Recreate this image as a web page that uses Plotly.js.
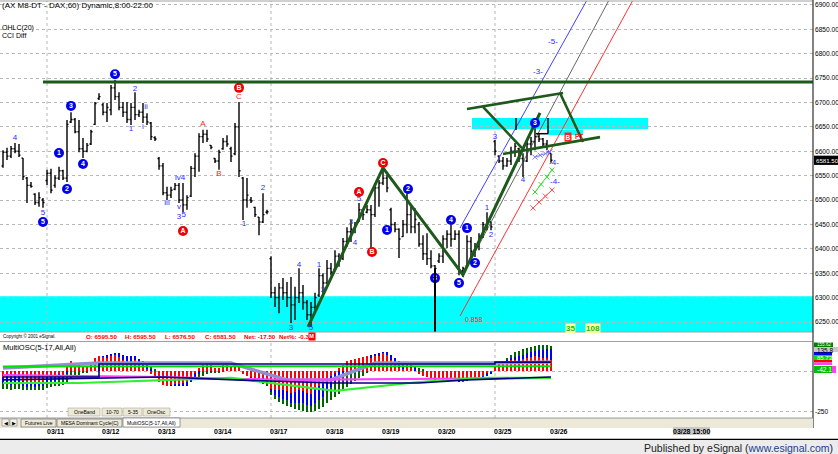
<!DOCTYPE html>
<html><head><meta charset="utf-8">
<script src="https://cdn.plot.ly/plotly-3.0.1.min.js"></script>
<style>html,body{margin:0;padding:0;background:#fff;overflow:hidden}#chart{width:838px;height:454px;}</style>
</head><body><div id="chart"></div>
<script>
// ---------- DATA (hourly DAX bars, 8:00-22:00) ----------
const openP  = [6570,6598,6590,6605,6600,6586,6545,6530,6512,6495,6500,6540,6555,6530,6545,6560,6545,6660,6665,6640,6605,6600,6615,6655,6708,6695,6680,6685,6730,6712,6690,6680,6665,6690,6675,6680,6670,6658,6628,6585,6570,6515,6510,6522,6530,6500,6490,6508,6565,6590,6630,6635,6612,6585,6580,6605,6620,6605,6595,6650,6545,6500,6500,6485,6465,6455,6475,6380,6310,6300,6320,6310,6300,6285,6300,6310,6290,6265,6280,6305,6345,6330,6360,6358,6385,6380,6415,6435,6440,6455,6480,6475,6480,6470,6525,6535,6545,6480,6450,6440,6425,6450,6470,6445,6450,6410,6390,6380,6365,6375,6385,6420,6430,6420,6430,6355,6365,6415,6395,6405,6425,6450,6455,6620,6590,6580,6570,6580,6600,6605,6585,6580,6615,6620,6630,6625,6615,6595.5];
const highP  = [6602,6607,6611,6617,6615,6586,6547,6537,6514,6516,6504,6562,6564,6551,6568,6562,6664,6680,6668,6664,6627,6617,6644,6701,6719,6699,6699,6736,6746,6721,6701,6701,6699,6721,6685,6699,6678,6660,6631,6588,6576,6527,6527,6535,6535,6535,6510,6570,6596,6637,6644,6644,6613,6586,6603,6627,6633,6609,6658,6701,6547,6545,6506,6486,6465,6514,6480,6385,6322,6330,6340,6332,6342,6322,6360,6326,6295,6291,6310,6360,6350,6377,6371,6397,6391,6422,6444,6459,6455,6494,6480,6490,6490,6535,6541,6566,6551,6484,6455,6442,6459,6514,6486,6483,6455,6428,6432,6397,6367,6391,6428,6438,6449,6438,6438,6363,6428,6424,6412,6432,6455,6475,6455,6623,6592,6588,6586,6609,6617,6607,6596,6623,6629,6647,6637,6627,6623,6595.5];
const lowP   = [6566,6582,6586,6596,6588,6541,6494,6525,6490,6486,6484,6531,6514,6525,6541,6541,6537,6658,6637,6598,6586,6598,6613,6654,6705,6674,6660,6674,6705,6684,6670,6658,6654,6664,6670,6658,6654,6623,6621,6562,6510,6500,6504,6520,6494,6475,6480,6506,6547,6558,6617,6619,6604,6576,6562,6603,6609,6578,6592,6547,6459,6484,6494,6465,6428,6453,6471,6299,6281,6268,6295,6281,6248,6254,6289,6275,6254,6240,6275,6301,6309,6330,6346,6356,6363,6377,6404,6414,6432,6455,6459,6473,6397,6465,6486,6531,6516,6438,6434,6381,6424,6432,6432,6432,6404,6377,6367,6360,6352,6371,6371,6401,6404,6418,6346,6342,6363,6383,6383,6397,6422,6438,6438,6592,6576,6562,6568,6572,6588,6578,6547,6578,6592,6602,6619,6609,6602,6576.5];
const closeP = [6598,6590,6605,6600,6592,6548,6530,6528,6495,6505,6495,6555,6520,6545,6560,6545,6655,6665,6640,6605,6600,6612,6640,6698,6712,6680,6690,6730,6712,6690,6680,6665,6690,6675,6680,6670,6660,6630,6625,6570,6515,6510,6520,6530,6500,6490,6505,6565,6590,6630,6635,6625,6608,6580,6598,6620,6615,6590,6650,6560,6500,6510,6498,6470,6455,6470,6476,6310,6300,6320,6310,6300,6285,6300,6310,6290,6265,6280,6300,6345,6330,6360,6352,6385,6375,6415,6435,6440,6450,6480,6470,6480,6470,6525,6535,6545,6525,6450,6440,6420,6450,6470,6445,6460,6410,6390,6380,6365,6360,6385,6420,6430,6420,6430,6355,6360,6415,6395,6405,6425,6450,6455,6445,6600,6580,6570,6580,6600,6610,6585,6580,6615,6620,6630,6625,6615,6599,6581.5];

// MultiOSC histograms (fast = red, medium = blue, slow = green)
const oscRed   = [-40,-35,-45,-30,-35,-60,-75,-70,-80,-75,-70,-40,-30,-35,-20,-25,30,60,50,40,30,30,45,80,95,85,80,90,100,85,70,60,55,65,40,30,10,-20,-40,-70,-85,-90,-85,-80,-80,-75,-70,-40,-10,20,40,50,40,20,20,35,40,30,45,40,-20,-30,-40,-55,-60,-45,-50,-110,-120,-115,-120,-125,-135,-130,-120,-125,-135,-140,-120,-90,-80,-60,-30,-10,20,40,60,70,75,80,85,95,80,90,95,110,100,70,40,20,10,30,20,0,-20,-30,-40,-50,-55,-45,-50,-55,-50,-55,-60,-65,-50,-45,-50,-40,-30,-15,-5,30,45,55,60,65,70,60,75,80,85,90,85,80,80,70];
const oscBlue  = [-75,-80,-85,-75,-80,-90,-100,-95,-100,-95,-90,-70,-60,-60,-50,-45,-20,20,30,25,20,20,35,70,90,95,100,105,110,110,100,95,90,90,75,60,40,10,-20,-50,-70,-85,-90,-90,-95,-95,-90,-70,-50,-20,10,25,25,15,15,25,30,25,35,30,-10,-30,-45,-60,-70,-70,-75,-130,-150,-160,-170,-180,-195,-200,-195,-200,-210,-215,-200,-180,-160,-130,-100,-70,-40,-10,15,40,55,65,80,95,100,105,110,115,115,100,80,60,45,45,35,20,0,-15,-30,-40,-50,-45,-55,-60,-60,-60,-65,-70,-60,-55,-55,-50,-40,-30,-20,25,45,60,70,80,85,90,100,110,115,125,130,130,135,136];
const oscGreen = [-110,-110,-115,-110,-110,-115,-120,-120,-120,-115,-115,-105,-100,-95,-90,-85,-70,-50,-35,-25,-15,-10,0,15,30,45,55,60,65,70,70,70,70,65,60,50,40,25,10,-10,-30,-45,-55,-60,-65,-65,-65,-60,-50,-40,-30,-20,-15,-10,-10,-5,0,0,5,5,-5,-20,-35,-50,-65,-80,-90,-150,-170,-190,-205,-215,-225,-235,-240,-245,-250,-250,-245,-235,-220,-200,-180,-160,-140,-120,-100,-80,-60,-45,-30,-15,0,15,30,45,55,60,60,55,50,45,40,30,20,10,0,-10,-20,-25,-35,-40,-45,-50,-50,-55,-55,-50,-50,-45,-40,-30,-20,20,40,60,80,100,115,125,135,145,150,155,160,160,158,156];

// oscillator band lines (bar index -> value)
const navyTopX = [0,24,24,123,123,137],        navyTopY = [-37,-37,43,43,55,55];
const navyLowX = [0,40,58,82,104,116,137],     navyLowY = [-55,-37,-55,-74,-74,-55,-37];
const lavX     = [0,24,57,71,82,93,123,137],   lavY     = [18,49,49,-55,-55,49,49,55];
const magX     = [0,40,70,137],                magY     = [-25,-37,-55,-43];
const grnTopX  = [0,137],                      grnTopY  = [28,30];
const grnLowX  = [0,19,57,83,104,120,137],     grnLowY  = [-74,-74,-43,-123,-68,-43,-43];

const dayLabels   = ['03/11','03/12','03/13','03/14','03/17','03/18','03/19','03/20','03/25','03/26'];
const dayStartBar = [11,25,39,53,67,81,95,109,123,137];
const priceTicks  = [6250,6300,6350,6400,6450,6500,6550,6600,6650,6700,6750,6800,6850,6900];

// drawn study lines (bar index, price)
const zigX = [76.25,95,115,134.25],  zigY = [6240,6566,6346.5,6678.5];
const tri = [[[116,140],[6686.5,6719.5]],[[120,129.75],[6691,6606.5]],[[125,149.25],[6594.5,6629]],[[139.25,145],[6719.5,6619]]];
const chanBlueX=[114.25,146], chanBlueY=[6442.7,6910];
const chanGrayX=[115,151.5],  chanGrayY=[6346.5,6910];
const chanRedX =[114.25,157.5],chanRedY=[6262.3,6910];
const projGX=[133,134.5,136,137.25], projGY=[6516.5,6532,6547,6561.6];
const projRX=[132.5,134,135.6,137.25], projRY=[6483.7,6496,6508,6520.6];
const projBX=[133,134.3,135.6,136.75], projBY=[6588,6592,6595,6598.5];

// wave labels
const bcX=[10,14,16,17,20,28,96,101.25,108,112,114,116,118,133];
const bcY=[6455,6596.5,6522.5,6693,6574,6758,6438.5,6522.5,6340,6459,6330,6442.5,6371,6658];
const bcT=['5','1','2','3','4','5','1','2','3','4','5','1','2','3'];
const rcX=[45,59,89,92.25,95], rcY=[6436.5,6730,6516.5,6393.5,6576], rcT=['A','B','A','B','C'];
const btX=[3,10,33,32,35.75,35,41,44.25,44,44,45.2,60.25,65,74,72,77,79,80,87,88,89,121,122,123,130,137.75,138,137.5,133.75];
const btY=[6627,6473.5,6727.5,6645.5,6691,6650,6494,6545,6486,6465,6469.5,6451,6524.5,6367,6238,6238,6367,6315.5,6455,6412,6502,6483.5,6428.5,6629,6541,6576,6537,6824,6762.5];
const btT=['4','5','2','1','ii','i','iii','iv4','v','3','5','1','2','4','3','5','1','2','3','4','5','1','2','3','4','-4-','-4-','-5-','-3-'];
const rtX=[50,54,59], rtY=[6656,6553.5,6711], rtT=['A','B','C'];

// ---------- BUILD ----------
const idx = openP.map((_,i)=>i);
const px = X => X/813;           // pixel x -> paper
const py = Y => (418-Y)/417;     // pixel y -> paper
const FONT = 'Liberation Sans, Arial, sans-serif';

const traces = [];
[[oscGreen,'#006400'],[oscBlue,'#0000ff'],[oscRed,'#ff0000']].forEach(([v,c])=>{
  traces.push({type:'bar',x:idx,y:v,width:0.3,marker:{color:c,line:{width:0}},xaxis:'x',yaxis:'y2',hoverinfo:'skip'});
});
const oscLine=(x,y,c,w)=>traces.push({type:'scatter',mode:'lines',x:x,y:y,line:{color:c,width:w},xaxis:'x',yaxis:'y2',hoverinfo:'skip'});
oscLine(lavX,lavY,'#9090d0',3.5);
oscLine(magX,magY,'#ff40ff',2.2);
oscLine(grnTopX,grnTopY,'#00e000',2);
oscLine(grnLowX,grnLowY,'#33ee33',2.2);
oscLine(navyTopX,navyTopY,'#000080',1.6);
oscLine(navyLowX,navyLowY,'#000080',1.6);

traces.push({type:'ohlc',x:idx,open:openP,high:highP,low:lowP,close:closeP,tickwidth:0.38,
  increasing:{line:{color:'#000',width:1.4}},decreasing:{line:{color:'#000',width:1.4}},xaxis:'x',yaxis:'y',hoverinfo:'skip'});

const pLine=(x,y,c,w,extra)=>traces.push(Object.assign({type:'scatter',mode:'lines',x:x,y:y,line:{color:c,width:w},xaxis:'x',yaxis:'y',hoverinfo:'skip'},extra||{}));
pLine(chanBlueX,chanBlueY,'#4040ff',1);
pLine(chanGrayX,chanGrayY,'#404040',0.8);
pLine(chanRedX,chanRedY,'#ff3030',1);
pLine(zigX,zigY,'#1c5a1c',3);
tri.forEach(t=>pLine(t[0],t[1],'#1c5a1c',2.6));
pLine(projGX,projGY,'#33dd33',1,{mode:'lines+markers',marker:{symbol:'x-thin',size:5,line:{color:'#33dd33',width:1}}});
pLine(projRX,projRY,'#ff5050',1,{mode:'lines+markers',marker:{symbol:'x-thin',size:5,line:{color:'#ff5050',width:1}}});
pLine(projBX,projBY,'#8080ff',1,{mode:'lines+markers',marker:{symbol:'x-thin',size:5,line:{color:'#8080ff',width:1}}});

traces.push({type:'scatter',mode:'text',x:btX,y:btY,text:btT,textfont:{family:FONT,size:8,color:'#2a2aff'},xaxis:'x',yaxis:'y',hoverinfo:'skip',cliponaxis:false});
traces.push({type:'scatter',mode:'text',x:rtX,y:rtY,text:rtT,textfont:{family:FONT,size:8,color:'#ff2020'},xaxis:'x',yaxis:'y',hoverinfo:'skip'});
traces.push({type:'scatter',mode:'markers+text',x:bcX,y:bcY,text:bcT,marker:{size:10,color:'#0000ee',line:{color:'#0000ee',width:0}},
  textfont:{family:FONT,size:7,color:'#fff',weight:'bold'},textposition:'middle center',xaxis:'x',yaxis:'y',hoverinfo:'skip'});
traces.push({type:'scatter',mode:'markers+text',x:rcX,y:rcY,text:rcT,marker:{size:10,color:'#ee0000',line:{color:'#ee0000',width:0}},
  textfont:{family:FONT,size:7,color:'#fff',weight:'bold'},textposition:'middle center',xaxis:'x',yaxis:'y',hoverinfo:'skip'});

// ---------- SHAPES ----------
const shapes = [];
const rectP=(x0,y0,x1,y1,fill,line,layer)=>shapes.push({type:'rect',xref:'paper',yref:'paper',x0:px(x0),x1:px(x1),y0:py(y1),y1:py(y0),fillcolor:fill,line:line||{width:0},layer:layer||'above'});
const lineP=(x0,y0,x1,y1,c,w,dash)=>shapes.push({type:'line',xref:'paper',yref:'paper',x0:px(x0),x1:px(x1),y0:py(y0),y1:py(y1),line:{color:c,width:w,dash:dash||'solid'},layer:'above'});
shapes.push({type:'rect',xref:'paper',yref:'y',x0:0,x1:1,y0:6229.5,y1:6303,fillcolor:'#00ffff',line:{width:0},layer:'below'});
shapes.push({type:'rect',xref:'x',yref:'y',x0:117.25,x1:161.25,y0:6645.5,y1:6668,fillcolor:'#00ffff',line:{width:0},layer:'below'});
shapes.push({type:'rect',xref:'x',yref:'y',x0:136.25,x1:145,y0:6633.5,y1:6644,fillcolor:'#00ffff',line:{width:0},layer:'below'});
[11,67,123].forEach(b=>{
  shapes.push({type:'line',xref:'x',yref:'paper',x0:b,x1:b,y0:py(332),y1:1,line:{color:'#b8b8b8',width:1,dash:'dot'},layer:'below'});
  shapes.push({type:'line',xref:'x',yref:'paper',x0:b,x1:b,y0:0,y1:py(343),line:{color:'#b8b8b8',width:1,dash:'dot'},layer:'below'});
});
shapes.push({type:'line',xref:'x',yref:'y',x0:10,x1:202.5,y0:6742,y1:6742,line:{color:'#1c5a1c',width:3},layer:'above'});
shapes.push({type:'line',xref:'x',yref:'y',x0:108,x1:108,y0:6229.5,y1:6360,line:{color:'#000',width:2},layer:'above'});
shapes.push({type:'line',xref:'x',yref:'y',x0:128.25,x1:128.25,y0:6643.5,y1:6668,line:{color:'#000',width:1.5},layer:'above'});
shapes.push({type:'line',xref:'x',yref:'y',x0:136.25,x1:136.25,y0:6636,y1:6668,line:{color:'#000',width:1.5},layer:'above'});
shapes.push({type:'line',xref:'x',yref:'y',x0:133.25,x1:136.25,y0:6636,y1:6636,line:{color:'#000',width:1.5},layer:'above'});
lineP(0,1,813,1,'#a0a0a0',1);
lineP(0,332,813,332,'#a0a0a0',1);
lineP(0,341.5,813,341.5,'#a0a0a0',1);
lineP(813,0,813,428,'#303030',1.2);
[[68,100,'OneBand'],[102,122,'10-70'],[123,142,'5-35'],[143,170,'OneOsc']].forEach(b=>rectP(b[0],408,b[1],416,'#ece9d8',{color:'#b0a890',width:0.6}));
rectP(0,418,813,428,'#ece9d8');
lineP(0,418,813,418,'#808080',0.8);
rectP(2,419,9,426,'#f4f2ea',{color:'#808080',width:0.6});
rectP(10,419,17,426,'#f4f2ea',{color:'#808080',width:0.6});
rectP(21,419,56,427,'#ece9d8',{color:'#606060',width:0.6});
rectP(57,419,122,427,'#ece9d8',{color:'#606060',width:0.6});
rectP(123,418,180,427,'#ffffff',{color:'#606060',width:0.6});
lineP(0,439.5,838,439.5,'#000',1.5);
shapes.push({type:'rect',xref:'paper',yref:'paper',x0:0,x1:838/813,y0:py(454),y1:py(440),fillcolor:'#ececec',line:{width:0},layer:'above'});
shapes.push({type:'rect',xref:'paper',yref:'paper',x0:px(673),x1:px(710),y0:py(435),y1:py(427),fillcolor:'#c8c8c8',line:{width:0},layer:'above'});
// right side value tags (oscillator)
rectP(814,342.5,833,347,'#008000');
rectP(814,347,838,352,'#c8c8c8');
rectP(814,352,832,355,'#0000ff');
rectP(814,355,832,360,'#00e000');
rectP(814,360,832,362.5,'#ff0000');
rectP(814,362.5,832,365,'#ff40ff');
rectP(814,366,836,373,'#ff40ff');
rectP(814,366,832,373,'#00c000');
shapes.push({type:'rect',xref:'paper',yref:'y',x0:px(814),x1:px(838),y0:6572,y1:6591,fillcolor:'#000',line:{width:0},layer:'above'});

// ---------- ANNOTATIONS ----------
const ann=[];
const A=(text,X,Y,o)=>ann.push(Object.assign({text:text,xref:'paper',yref:'paper',x:px(X),y:py(Y),xanchor:'left',yanchor:'middle',showarrow:false,font:{family:FONT,size:8,color:'#000'}},o||{}));
A('(AX M8-DT - DAX,60) Dynamic,8:00-22:00',0,5,{font:{family:FONT,size:8,color:'#000'}});
A('OHLC(20)',0,28,{font:{family:FONT,size:7,color:'#000'}});
A('CCI Diff',0,35,{font:{family:FONT,size:7,color:'#000'}});
A('Copyright © 2001 eSignal.',1,336,{font:{family:FONT,size:4.5,color:'#000'}});
[['O: 6595.50',84],['H: 6595.50',123],['L: 6576.50',163],['C: 6581.50',203],['Net: -17.50',242],['Net%: -0.3',277]].forEach(s=>A(s[0],s[1],336.5,{font:{family:FONT,size:6.2,color:'#ff0000',weight:'bold'}}));
A('M',308,336.5,{font:{family:FONT,size:5.5,color:'#fff',weight:'bold'},bgcolor:'#ff0000',borderpad:0.3});
A('MultiOSC(5-17,All,All)',1,347,{font:{family:FONT,size:7.5,color:'#000'}});
[[68,100,'OneBand'],[102,122,'10-70'],[123,142,'5-35'],[143,170,'OneOsc']].forEach(b=>A(b[2],(b[0]+b[1])/2,412,{xanchor:'center',font:{family:FONT,size:5,color:'#000'}}));
A('◀',5.5,422.5,{xanchor:'center',font:{family:'DejaVu Sans',size:5,color:'#000'}});
A('▶',13.5,422.5,{xanchor:'center',font:{family:'DejaVu Sans',size:5,color:'#000'}});
A('Futures Live',38.5,423,{xanchor:'center',font:{family:FONT,size:5,color:'#000'}});
A('MESA Dominant Cycle(C)',89.5,423,{xanchor:'center',font:{family:FONT,size:5,color:'#000'}});
A('MultiOSC(5-17,All,All)',151.5,423,{xanchor:'center',font:{family:FONT,size:5,color:'#000'}});
dayLabels.forEach((d,k)=>ann.push({text:d,xref:'x',yref:'paper',x:dayStartBar[k]+2,y:py(431),xanchor:'center',yanchor:'middle',showarrow:false,font:{family:FONT,size:7,color:'#000',weight:'bold'}}));
A('03/28 15:00',691.5,431,{xanchor:'center',font:{family:FONT,size:7,color:'#000',weight:'bold'}});
A('Published by eSignal (<span style="color:#1a3c8c">www.esignal.com</span>)',835,447.5,{xanchor:'right',font:{family:FONT,size:10.5,color:'#222'}});
ann.push({text:'6581.50',xref:'paper',yref:'y',x:px(814),y:6581.5,xanchor:'left',yanchor:'middle',showarrow:false,font:{family:FONT,size:6.1,color:'#fff'}});
A('155.62',814.5,344.3,{font:{family:FONT,size:4.6,color:'#fff'}});
A('135.8',814.5,350,{font:{family:FONT,size:6.4,color:'#000'}});
A('85.73',814.5,357.5,{font:{family:FONT,size:6,color:'#fff'}});
A('-42.1',814.5,369.5,{font:{family:FONT,size:6.6,color:'#fff'}});
ann.push({text:'0.858',xref:'x',yref:'y',x:115,y:6256,xanchor:'left',yanchor:'middle',showarrow:false,font:{family:FONT,size:7,color:'#ff2020'}});
ann.push({text:'35',xref:'x',yref:'y',x:140.5,y:6237,xanchor:'left',yanchor:'middle',showarrow:false,bgcolor:'#ffffa0',borderpad:0,font:{family:FONT,size:8,color:'#22bb22',weight:'bold'}});
ann.push({text:'108',xref:'x',yref:'y',x:145.5,y:6237,xanchor:'left',yanchor:'middle',showarrow:false,bgcolor:'#ffffa0',borderpad:0,font:{family:FONT,size:8,color:'#22bb22',weight:'bold'}});
ann.push({text:'B',xref:'x',yref:'y',x:140.3,y:6630,xanchor:'left',yanchor:'middle',showarrow:false,bgcolor:'#ff2020',borderpad:0.5,font:{family:FONT,size:6.5,color:'#fff',weight:'bold'}});
ann.push({text:'PT',xref:'x',yref:'y',x:142.6,y:6630,xanchor:'left',yanchor:'middle',showarrow:false,font:{family:FONT,size:6.5,color:'#ff2020',weight:'bold'}});

const layout = {
  width:838,height:454,margin:{l:0,r:25,t:1,b:36,pad:0},
  paper_bgcolor:'#fff',plot_bgcolor:'#fff',showlegend:false,barmode:'overlay',bargap:0,
  font:{family:FONT,size:8,color:'#000'},
  xaxis:{range:[-0.75,202.5],showgrid:false,zeroline:false,showticklabels:false,ticks:'',showline:false,rangeslider:{visible:false},anchor:'y2',fixedrange:true},
  yaxis:{domain:[py(332),1],range:[6229.5,6908],side:'right',tickvals:priceTicks,tickformat:'.2f',showgrid:true,gridcolor:'#b8b8b8',griddash:'dot',gridwidth:1,
         zeroline:false,showline:false,ticks:'',ticklabelstandoff:1,tickfont:{family:FONT,size:6.6,color:'#000'},anchor:'x'},
  yaxis2:{domain:[0,py(343)],range:[-290,172.8],side:'right',tickvals:[-250,0],ticktext:['-250',''],showgrid:true,gridcolor:'#b8b8b8',griddash:'dot',
          zeroline:false,showline:false,ticks:'',ticklabelstandoff:1,tickfont:{family:FONT,size:6.6,color:'#000'},anchor:'x'},
  shapes:shapes,annotations:ann
};
Plotly.newPlot('chart',traces,layout,{staticPlot:true,displayModeBar:false});
</script></body></html>
